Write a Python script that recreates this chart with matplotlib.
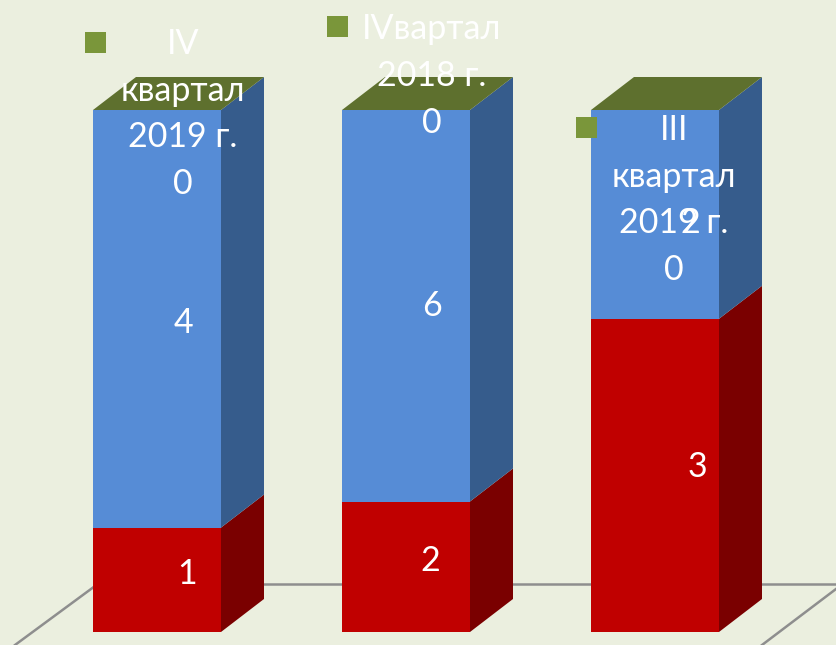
import numpy as np
import matplotlib
matplotlib.use('Agg')
import matplotlib.pyplot as plt
from matplotlib.patches import Polygon, Rectangle

plt.rcParams['font.family'] = ['Lato', 'Open Sans', 'DejaVu Sans']

# data
quarters = ['IV\nквартал\n2019 г.', 'IVвартал\n2018 г.', 'III\nквартал\n2019 г.']
red_vals = np.array([1, 2, 3])
blue_vals = np.array([4, 6, 2])
green_vals = np.array([0, 0, 0])

W, H = 836, 645
total = red_vals + blue_vals + green_vals
red_share = red_vals / total
blue_share = blue_vals / total

fig = plt.figure(figsize=(W / 100, H / 100), dpi=100, facecolor='#EBEFDF')
ax = fig.add_axes([0, 0, 1, 1])
ax.axis('off')

# one category = 249 px, full stack = 522 px
unit_x, unit_y = 249, 522
ax.set_xlim((0 - 157) / unit_x, (W - 157) / unit_x)
ax.set_ylim((632 - H) / unit_y, 632 / unit_y)

def px(x, y):
    return (x - 157) / unit_x, (632 - y) / unit_y

x = np.arange(len(quarters))
bar_w = 128 / unit_x
dx = 43 / unit_x
dy = 33 / unit_y

# floor lines
floor = [((15, 645), (110, 575)), ((262, 584), (345, 584)), ((511, 584), (594, 584)),
         ((760, 584), (836, 584)), ((762, 645), (836, 589))]
for a, b in floor:
    p, q = px(*a), px(*b)
    ax.plot([p[0], q[0]], [p[1], q[1]], color='#8E8E8E', lw=1.8, zorder=1)

ax.bar(x, red_share, bar_w, color='#C00000', edgecolor='none', zorder=4)
ax.bar(x, blue_share, bar_w, bottom=red_share, color='#568CD6', edgecolor='none', zorder=4)

def side(xc, lo, hi, col):
    r = xc + bar_w / 2
    ax.add_patch(Polygon([(r, lo), (r + dx, lo + dy), (r + dx, hi + dy), (r, hi)],
                         facecolor=col, edgecolor='none', zorder=3))

for i in x:
    side(i, 0, red_share[i], '#7A0000')
    side(i, red_share[i], red_share[i] + blue_share[i], '#365C8C')
    l, r = i - bar_w / 2, i + bar_w / 2
    ax.add_patch(Polygon([(l, 1), (r, 1), (r + dx, 1 + dy), (l + dx, 1 + dy)],
                         facecolor='#5E702E', edgecolor='none', zorder=3))

# data labels, legend-style keys
txt = dict(color='white', fontsize=24.5, ha='center', va='center', zorder=6)
red_pos = [(187, 574), (430, 561), (697, 467)]
blue_pos = [(183, 323), (432, 306), (690, 223)]
for v, p in zip(red_vals, red_pos):
    ax.text(*px(*p), str(v), **txt)
for v, p in zip(blue_vals, blue_pos):
    ax.text(*px(*p), str(v), **txt)

label_pos = [(183, 114), (432, 76), (674, 200)]
key_pos = [(85, 32), (327, 16), (576, 117)]
for q, v, p, k in zip(quarters, green_vals, label_pos, key_pos):
    ax.text(*px(*p), q + '\n' + str(v), linespacing=1.56, multialignment='center', **txt)
    kx, ky = px(k[0], k[1] + 21)
    ax.add_patch(Rectangle((kx, ky), 21 / unit_x, 21 / unit_y, facecolor='#7A963A',
                           edgecolor='none', zorder=5))

fig.savefig('out.png', dpi=100, facecolor=fig.get_facecolor())
